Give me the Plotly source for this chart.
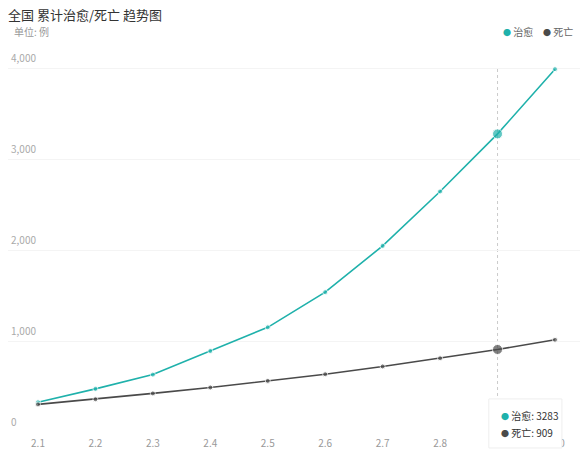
import plotly.graph_objects as go

# Daily totals, 2.1 - 2.10
dates = ["2.1", "2.2", "2.3", "2.4", "2.5", "2.6", "2.7", "2.8", "2.9", "2.10"]
cured = [328, 475, 632, 892, 1153, 1540, 2050, 2649, 3283, 3996]
deaths = [304, 361, 425, 490, 563, 636, 722, 812, 909, 1016]
y_ticks = [0, 1000, 2000, 3000, 4000]

teal = "#1fb1ab"
dark = "#4a4a4a"
font = "Noto Sans CJK SC"

# point under the hover crosshair
active = dates.index("2.9")
sizes = [10 if i == active else 5 for i in range(len(dates))]


def dot(color):
    return f"<span style='color:{color};font-size:8px'>●</span>"


fig = go.Figure()

fig.add_trace(go.Scatter(x=dates, y=cured, mode="lines+markers", name="治愈",
                         line=dict(color=teal, width=1.6),
                         marker=dict(color=teal, size=sizes)))
fig.add_trace(go.Scatter(x=dates, y=deaths, mode="lines+markers", name="死亡",
                         line=dict(color=dark, width=1.6),
                         marker=dict(color=dark, size=sizes)))

# crosshair
fig.add_shape(type="line", xref="x", yref="y", x0=active, x1=active, y0=0, y1=y_ticks[-1],
              line=dict(color="#cccccc", width=1, dash="dot"), layer="below")

# tooltip box
fig.add_shape(type="rect", xref="paper", yref="paper", x0=0.829, x1=0.955, y0=-0.042, y1=0.087,
              fillcolor="white", line=dict(color="#eeeeee", width=1), layer="above")
tip_font = dict(family=font, size=10, color="#333333")
fig.add_annotation(xref="paper", yref="paper", x=0.846, y=0.043, xanchor="left", yanchor="middle",
                   text=f"{dot(teal)} 治愈: {cured[active]}", showarrow=False, font=tip_font)
fig.add_annotation(xref="paper", yref="paper", x=0.846, y=-0.001, xanchor="left", yanchor="middle",
                   text=f"{dot(dark)} 死亡: {deaths[active]}", showarrow=False, font=tip_font)

# legend drawn as dot + name, top right
leg_font = dict(family=font, size=10, color="#666666")
fig.add_annotation(xref="paper", yref="paper", x=0.909, y=1.053, xanchor="right", yanchor="middle",
                   text=f"{dot(teal)} 治愈", showarrow=False, font=leg_font)
fig.add_annotation(xref="paper", yref="paper", x=0.978, y=1.053, xanchor="right", yanchor="middle",
                   text=f"{dot(dark)} 死亡", showarrow=False, font=leg_font)

# unit label
fig.add_annotation(xref="paper", yref="paper", x=0.007, y=1.055, xanchor="left", yanchor="middle",
                   text="单位: 例", showarrow=False, font=dict(family=font, size=10, color="#999999"))

fig.update_layout(
    width=580, height=446,
    template="none",
    paper_bgcolor="white", plot_bgcolor="white",
    margin=dict(l=0, r=0, t=44, b=22),
    font=dict(family=font, size=10, color="#999999"),
    title=dict(text="全国 累计治愈/死亡 趋势图", x=0.0, xanchor="left",
               y=0.983, yanchor="middle", font=dict(family=font, size=13, color="#333333")),
    showlegend=False,
)

fig.update_xaxes(type="category", range=[-0.522, 9.575], showgrid=False, showline=False,
                 zeroline=False, ticks="", automargin=False, ticklabelstandoff=4,
                 tickfont=dict(family=font, size=10, color="#999999"))
fig.update_yaxes(range=[0, 4185], tickvals=y_ticks, tickformat=",", showgrid=True,
                 gridcolor="#f4f4f4", gridwidth=1, zeroline=False, showline=False, ticks="",
                 ticklabelposition="inside top", ticklabelshift=-3, ticklabeloverflow="allow",
                 automargin=False, tickfont=dict(family=font, size=10, color="#aaaaaa"))

fig.write_html("out.html")
